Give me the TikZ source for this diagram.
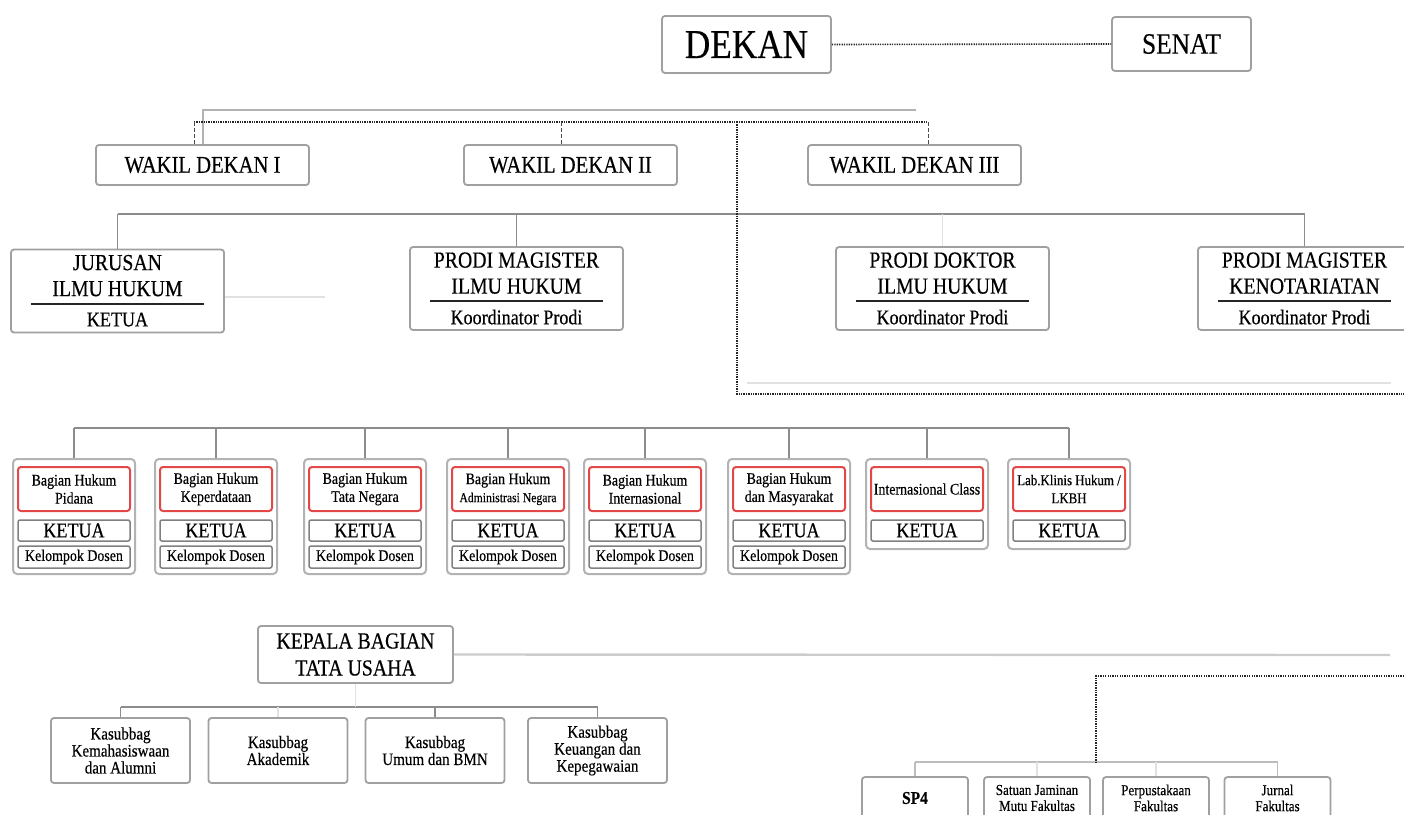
\documentclass[tikz,border=0pt]{standalone}
\usepackage{fontspec}
\setmainfont{Liberation Serif}[FakeStretch=0.86, FakeBold=0.35]
\usepackage{tikz}
\usetikzlibrary{calc}
\usepackage{xcolor}
\definecolor{boxgray}{RGB}{160,160,160}
\definecolor{linegray}{RGB}{140,140,140}
\definecolor{faintgray}{RGB}{225,225,225}
\definecolor{bagred}{RGB}{226,72,72}

\tikzset{
  orgbox/.style={draw=boxgray, line width=1.8pt, rounded corners=3pt, fill=white, inner sep=1pt, align=center},
  bagbox/.style={draw=boxgray!80, line width=2pt, rounded corners=4pt, fill=white, minimum width=122pt},
  redbox/.style={draw=bagred, line width=2pt, rounded corners=3pt, minimum width=112pt, minimum height=44pt, inner sep=1pt, align=center},
  ketbox/.style={draw=gray, line width=1.5pt, rounded corners=2pt, minimum width=112pt, minimum height=21pt, inner sep=0pt, font=\fontsize{21}{21}\selectfont},
  dosbox/.style={draw=gray, line width=1.5pt, rounded corners=2pt, minimum width=112pt, minimum height=22pt, inner sep=0pt, font=\fontsize{16.2}{17}\selectfont},
  unithead/.style={align=center, inner sep=0pt, font=\fontsize{23}{26}\selectfont},
  unitsub/.style={inner sep=0pt, font=\fontsize{21}{22}\selectfont},
  conn/.style={draw=linegray, line width=1.6pt},
  faint/.style={draw=faintgray, line width=1.6pt},
  dotline/.style={draw=black!85, line width=1.6pt, dash pattern=on 1.3pt off 1.1pt},
  dashdrop/.style={draw=black!70, line width=1pt, dash pattern=on 4pt off 2pt},
  rulebar/.style={draw=black!85, line width=2.2pt}
}

\begin{document}
\begin{tikzpicture}[x=1pt, y=-1pt]
  \useasboundingbox (0,0) rectangle (1404,814);
  \clip (0,0) rectangle (1404,814);

  \node[orgbox, minimum width=169pt, minimum height=57pt, font=\fontsize{41}{42}\selectfont] (dekan) at (746.5,44.5) {DEKAN};
  \node[orgbox, minimum width=139pt, minimum height=54pt, font=\fontsize{29.5}{31}\selectfont] (senat) at (1181.5,44) {SENAT};
  \draw[dotline] (dekan.east) -- (senat.west);

  \foreach \nm/\cx/\txt in {wd1/202.5/WAKIL DEKAN I, wd2/570.5/WAKIL DEKAN II, wd3/914.5/WAKIL DEKAN III}
    \node[orgbox, minimum width=213pt, minimum height=40pt, font=\fontsize{24}{25}\selectfont] (\nm) at (\cx,165) {\txt};

  \coordinate (b1L) at (203,110);
  \coordinate (b1R) at (916,110);
  \draw[conn, draw=boxgray!80] (b1R) -- (b1L) -- (b1L |- wd1.north);

  \coordinate (d1L) at (194,122);
  \coordinate (d1B) at (561,122);
  \coordinate (d1M) at (737,122);
  \coordinate (d1R) at (928,122);
  \coordinate (dEdge) at (1404,394);
  \draw[dotline] (d1L) -- (d1R);
  \draw[dashdrop] (d1L) -- (d1L |- wd1.north);
  \draw[dashdrop] (d1B) -- (d1B |- wd2.north);
  \draw[dashdrop] (d1R) -- (d1R |- wd3.north);

  \foreach \nm/\cx/\cy/\hd/\sb in {jur/117.5/291/{JURUSAN\\ILMU HUKUM}/KETUA,
      pmih/516.5/288.5/{PRODI MAGISTER\\ILMU HUKUM}/Koordinator Prodi,
      pdih/942.5/288.5/{PRODI DOKTOR\\ILMU HUKUM}/Koordinator Prodi,
      pmkn/1304.5/288.5/{PRODI MAGISTER\\KENOTARIATAN}/Koordinator Prodi} {
    \node[orgbox, minimum width=213pt, minimum height=83pt] (\nm) at (\cx,\cy) {};
    \node[unithead] (\nm H) at ([yshift=-27pt]\nm.north) {\hd};
    \draw[rulebar] ([xshift=21pt,yshift=-55pt]\nm.north west) -- ([xshift=-21pt,yshift=-55pt]\nm.north east);
    \node[unitsub] (\nm S) at ([yshift=-71pt]\nm.north) {\sb};
  }

  \coordinate (bus2) at (0,214);
  \draw[conn] (bus2 -| jur.north) -- (bus2 -| pmkn.north);
  \draw[conn] (bus2 -| jur.north) -- (jur.north);
  \draw[conn] (bus2 -| pmih.north) -- (pmih.north);
  \draw[faint] (bus2 -| pdih.north) -- (pdih.north);
  \draw[conn] (bus2 -| pmkn.north) -- (pmkn.north);

  \coordinate (jurEnd) at (325,297);
  \draw[faint] (jur.east |- jurEnd) -- (jurEnd);

  \coordinate (f1L) at (747,383);
  \coordinate (f1R) at (1391,383);
  \draw[faint] (f1L) -- (f1R);
  \draw[dotline] (d1M) -- (d1M |- dEdge) -- (dEdge);

  \coordinate (bus3) at (0,428);
  \foreach \i/\cx/\hh/\bsz/\txt in {
      1/74/115/16.2/{Bagian Hukum\\Pidana},
      2/216/115/16.2/{Bagian Hukum\\Keperdataan},
      3/365/115/16.2/{Bagian Hukum\\Tata Negara},
      4/508/115/16.2/{Bagian Hukum\\{\fontsize{13.6}{15}\selectfont Administrasi Negara}},
      5/645/115/16.2/{Bagian Hukum\\Internasional},
      6/789/115/16.2/{Bagian Hukum\\dan Masyarakat},
      7/927/90/16.2/{Internasional Class},
      8/1069/90/15/{Lab.Klinis Hukum /\\LKBH}} {
    \node[bagbox, minimum height=\hh pt, anchor=north] (bag\i) at (\cx,458) {};
    \node[redbox, font=\fontsize{\bsz}{18}\selectfont] (bagN\i) at (\cx,489) {\txt};
    \node[ketbox] (bagK\i) at (\cx,530.5) {KETUA};
    \ifnum\i<7
      \node[dosbox] (bagD\i) at (\cx,557) {Kelompok Dosen};
    \fi
    \draw[conn] (bus3 -| bag\i.north) -- (bag\i.north);
  }
  \draw[conn] (bus3 -| bag1.north) -- (bus3 -| bag8.north);

  \node[orgbox, minimum width=195pt, minimum height=57pt, font=\fontsize{23}{27}\selectfont] (kbag) at (355.5,654.5) {KEPALA BAGIAN\\TATA USAHA};
  \coordinate (kbEnd) at (1390,655);
  \draw[conn, draw=gray!40, line width=2.4pt] (kbag.east) -- (kbEnd);

  \foreach \nm/\cx/\txt in {kas1/120.5/{Kasubbag\\Kemahasiswaan\\dan Alumni},
      kas2/278/{Kasubbag\\Akademik},
      kas3/435/{Kasubbag\\Umum dan BMN},
      kas4/597.5/{Kasubbag\\Keuangan dan\\Kepegawaian}}
    \node[orgbox, minimum width=139pt, minimum height=65pt, font=\fontsize{17.5}{17}\selectfont] (\nm) at (\cx,750.5) {\txt};

  \coordinate (bus4) at (0,707);
  \draw[conn] (bus4 -| kas1.north) -- (bus4 -| kas4.north);
  \draw[faint] (kbag.south) -- (bus4 -| kbag.south);
  \draw[conn] (bus4 -| kas1.north) -- (kas1.north);
  \draw[faint] (bus4 -| kas2.north) -- (kas2.north);
  \draw[conn] (bus4 -| kas3.north) -- (kas3.north);
  \draw[conn] (bus4 -| kas4.north) -- (kas4.north);

  \foreach \nm/\cx/\txt in {sp4/915/{\fontsize{18}{18}\selectfont\bfseries SP4},
      sjm/1037/{Satuan Jaminan\\Mutu Fakultas},
      perp/1156/{Perpustakaan\\Fakultas},
      jurn/1277.5/{Jurnal\\Fakultas}}
    \node[orgbox, minimum width=106pt, minimum height=42pt, font=\fontsize{15.2}{16}\selectfont] (\nm) at (\cx,798) {\txt};

  \coordinate (bus5) at (0,762);
  \coordinate (dEdge2) at (1404,676);
  \coordinate (d2C) at (1096,676);
  \draw[conn, draw=boxgray!70] (bus5 -| sp4.north) -- (bus5 -| jurn.north);
  \draw[conn, draw=boxgray!70] (bus5 -| sp4.north) -- (sp4.north);
  \draw[faint] (bus5 -| sjm.north) -- (sjm.north);
  \draw[faint] (bus5 -| perp.north) -- (perp.north);
  \draw[conn, draw=boxgray!70] (bus5 -| jurn.north) -- (jurn.north);
  \draw[dotline] (dEdge2) -- (d2C) -- (d2C |- bus5);
\end{tikzpicture}
\end{document}
